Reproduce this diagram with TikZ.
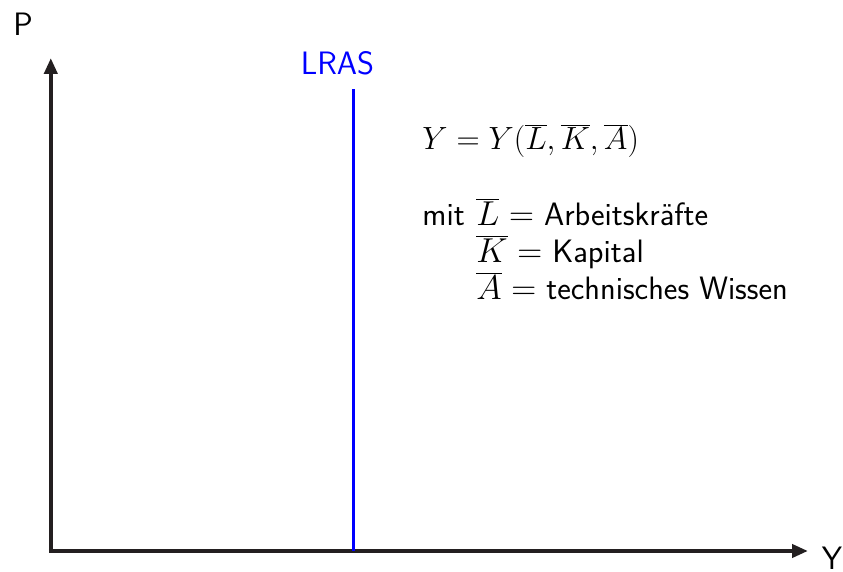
\documentclass[tikz,border=0pt]{standalone}
\usepackage{fontspec}
\usetikzlibrary{arrows.meta}
\definecolor{axisgray}{RGB}{35,31,32}
\begin{document}
\begin{tikzpicture}[x=0.5pt,y=-0.5pt,
  axis/.style={draw=axisgray,line width=2pt,-{Triangle[length=8pt,width=6.5pt]}},
  biglabel/.style={font=\sffamily\fontsize{16.2}{19}\selectfont,inner sep=0pt},
  txt/.style={font=\sffamily\fontsize{16.2}{19}\selectfont,inner sep=0pt,anchor=base west},
  formula/.style={font=\sffamily\fontsize{16}{19}\selectfont,inner sep=0pt,anchor=base west}]
\useasboundingbox (0,0) rectangle (843,572);
\coordinate (O) at (50.8,551);
\coordinate (ytop) at (50.8,58);
\coordinate (xend) at (808,551);
\coordinate (lrasB) at (353.3,551);
\coordinate (lrasT) at (353.3,89);
\draw[axis] (O) -- (ytop);
\draw[axis] ([xshift=-1pt]O) -- (xend);
\draw[blue,line width=1.4pt] (lrasB) -- (lrasT);
\node[biglabel,anchor=base] (P) at (23,36) {P};
\node[biglabel,anchor=base] (Y) at (832,570) {Y};
\node[biglabel,anchor=base,text=blue] (lras) at (337.5,74.5) {LRAS};
\node[formula] (f) at (422,150) {\scalebox{0.93}{$Y = Y(\overline{L},\overline{K},\overline{A})$}};
\node[txt] (mit) at (422,226) {mit};
\node[txt] (l1) at (476,226) {$\overline{L} =$ Arbeitskräfte};
\node[txt] (l2) at (476,263) {$\overline{K} =$ Kapital};
\node[txt] (l3) at (476,300) {$\overline{A} =$ technisches Wissen};
\end{tikzpicture}
\end{document}
